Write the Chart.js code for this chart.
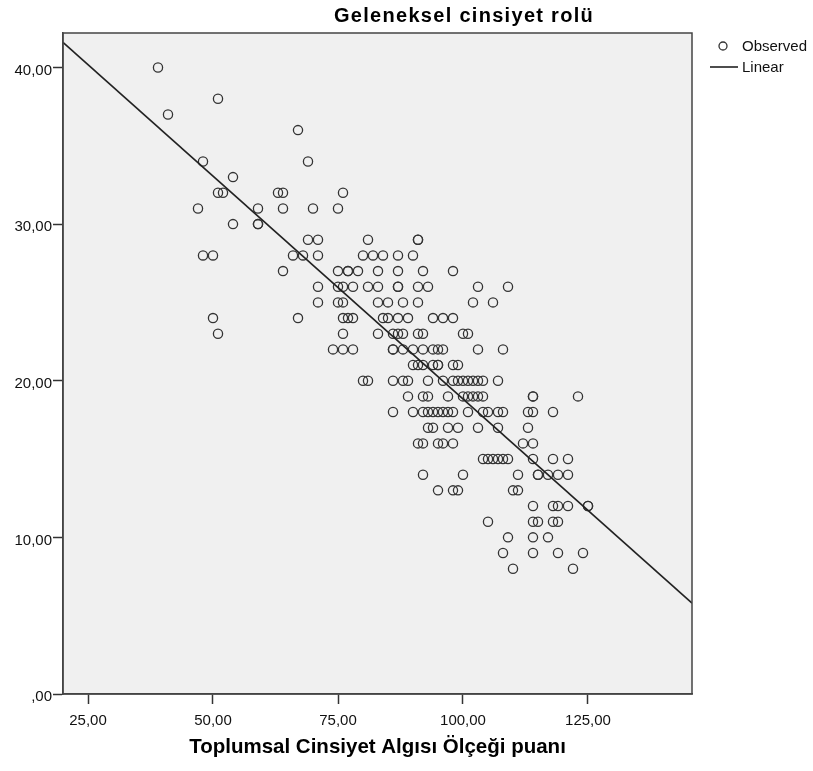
<!DOCTYPE html>
<html>
<head>
<meta charset="utf-8">
<script src="https://cdn.jsdelivr.net/npm/chart.js@4/dist/chart.umd.min.js"></script>
<style>
  html, body { margin: 0; padding: 0; background: #fff; }
</style>
</head>
<body>
<canvas id="scatter" width="813" height="771"></canvas>
<script>
// Toplumsal Cinsiyet Algısı Ölçeği puanı (x) vs Geleneksel cinsiyet rolü (y)
const toplumsalPuan = [
  39,
  51,
  41,
  67,
  48, 69,
  54,
  51, 52, 63, 64, 76,
  47, 59, 64, 70, 75,
  54, 59, 59,
  69, 71, 81, 91, 91,
  48, 50, 66, 68, 71, 80, 82, 84, 87, 90,
  64, 75, 77, 77, 79, 83, 87, 92, 98,
  71, 75, 76, 78, 81, 83, 87, 87, 91, 93, 103, 109,
  71, 75, 76, 83, 85, 88, 91, 102, 106,
  50, 67, 76, 77, 78, 84, 85, 87, 89, 94, 96, 98,
  51, 76, 83, 86, 87, 88, 91, 92, 100, 101,
  74, 76, 78, 86, 86, 88, 90, 92, 94, 95, 96, 103, 108,
  90, 91, 92, 94, 95, 95, 98, 99,
  80, 81, 86, 88, 89, 93, 96, 98, 99, 100, 101, 102, 103, 104, 107,
  89, 92, 93, 97, 100, 101, 102, 103, 104, 114, 114, 123,
  86, 90, 92, 93, 94, 95, 96, 97, 98, 101, 104, 105, 107, 108, 113, 114, 118,
  93, 94, 97, 99, 103, 107, 113,
  91, 92, 95, 96, 98, 112, 114,
  104, 105, 106, 107, 108, 109, 114, 118, 121,
  92, 100, 111, 115, 115, 117, 119, 121,
  95, 98, 99, 110, 111,
  114, 118, 119, 121, 125, 125,
  105, 114, 115, 118, 119,
  109, 114, 117,
  108, 114, 119, 124,
  110, 122
]
const gelenekselRol = [
  40,
  38,
  37,
  36,
  34, 34,
  33,
  32, 32, 32, 32, 32,
  31, 31, 31, 31, 31,
  30, 30, 30,
  29, 29, 29, 29, 29,
  28, 28, 28, 28, 28, 28, 28, 28, 28, 28,
  27, 27, 27, 27, 27, 27, 27, 27, 27,
  26, 26, 26, 26, 26, 26, 26, 26, 26, 26, 26, 26,
  25, 25, 25, 25, 25, 25, 25, 25, 25,
  24, 24, 24, 24, 24, 24, 24, 24, 24, 24, 24, 24,
  23, 23, 23, 23, 23, 23, 23, 23, 23, 23,
  22, 22, 22, 22, 22, 22, 22, 22, 22, 22, 22, 22, 22,
  21, 21, 21, 21, 21, 21, 21, 21,
  20, 20, 20, 20, 20, 20, 20, 20, 20, 20, 20, 20, 20, 20, 20,
  19, 19, 19, 19, 19, 19, 19, 19, 19, 19, 19, 19,
  18, 18, 18, 18, 18, 18, 18, 18, 18, 18, 18, 18, 18, 18, 18, 18, 18,
  17, 17, 17, 17, 17, 17, 17,
  16, 16, 16, 16, 16, 16, 16,
  15, 15, 15, 15, 15, 15, 15, 15, 15,
  14, 14, 14, 14, 14, 14, 14, 14,
  13, 13, 13, 13, 13,
  12, 12, 12, 12, 12, 12,
  11, 11, 11, 11, 11,
  10, 10, 10,
  9, 9, 9, 9,
  8, 8
]

// fitted line, both ends as read at the plot edges
const linearX = [20, 145.8]
const linearY = [41.6, 5.8]

const xTicks = [25, 50, 75, 100, 125]
const yTicks = [0, 10, 20, 30, 40]

const chartTitle = 'Geleneksel cinsiyet rolü'
const xTitle = 'Toplumsal Cinsiyet Algısı Ölçeği puanı'
const legendLabels = ['Observed', 'Linear']

const fontFamily = '"Liberation Sans", Arial, sans-serif'
const ink = '#333'

// SPSS style: 10,00 / ,00
const spssNum = (v) => v === 0 ? ',00' : v.toFixed(2).replace('.', ',')

const observed = toplumsalPuan.map((x, i) => ({ x: x, y: gelenekselRol[i] }))
const fitted = linearX.map((x, i) => ({ x: x, y: linearY[i] }))

const spssFrame = {
  id: 'spssFrame',
  beforeDraw(chart) {
    const { ctx, chartArea: a } = chart
    ctx.save()
    ctx.fillStyle = '#f0f0f0'
    ctx.fillRect(a.left, a.top, a.right - a.left, a.bottom - a.top)
    ctx.restore()
  },
  afterDraw(chart) {
    const { ctx, chartArea: a } = chart
    ctx.save()
    ctx.strokeStyle = '#444'
    ctx.lineWidth = 1.5
    ctx.strokeRect(a.left, a.top, a.right - a.left, a.bottom - a.top)

    // title (SPSS draws it a little wide)
    ctx.fillStyle = '#000'
    ctx.font = 'bold 20px ' + fontFamily
    if ('letterSpacing' in ctx) ctx.letterSpacing = '1.3px'
    ctx.textAlign = 'center'
    ctx.textBaseline = 'middle'
    ctx.fillText(chartTitle, 464, 16)
    if ('letterSpacing' in ctx) ctx.letterSpacing = '0px'

    // legend
    ctx.font = '15px ' + fontFamily
    ctx.textAlign = 'left'
    ctx.fillStyle = '#111'
    ctx.strokeStyle = ink
    ctx.lineWidth = 1.3
    ctx.beginPath()
    ctx.arc(723, 46, 4, 0, Math.PI * 2)
    ctx.stroke()
    ctx.fillText(legendLabels[0], 742, 47)
    ctx.strokeStyle = '#222'
    ctx.lineWidth = 1.6
    ctx.beginPath()
    ctx.moveTo(710, 67)
    ctx.lineTo(738, 67)
    ctx.stroke()
    ctx.fillText(legendLabels[1], 742, 68)
    ctx.restore()
  }
}

new Chart(document.getElementById('scatter'), {
  type: 'scatter',
  data: {
    datasets: [
      {
        label: legendLabels[0],
        data: observed,
        pointStyle: 'circle',
        pointRadius: 4.6,
        pointBorderWidth: 1.3,
        borderColor: ink,
        backgroundColor: 'rgba(0,0,0,0)',
        order: 2,
      },
      {
        type: 'line',
        label: legendLabels[1],
        data: fitted,
        borderColor: '#222',
        borderWidth: 1.6,
        pointRadius: 0,
        fill: false,
        order: 1,
      },
    ],
  },
  options: {
    responsive: false,
    animation: false,
    devicePixelRatio: 1,
    layout: { padding: { top: 33, right: 121, left: 0, bottom: 0 } },
    plugins: {
      legend: { display: false },
      tooltip: { enabled: false },
    },
    scales: {
      x: {
        type: 'linear',
        min: 20,
        max: 145.8,
        afterBuildTicks: (scale) => { scale.ticks = xTicks.map(v => ({ value: v })) },
        afterFit: (scale) => { scale.height = 77 },
        grid: { drawOnChartArea: false, drawTicks: true, tickLength: 10, tickColor: ink, tickWidth: 1.5 },
        border: { display: true, color: '#444', width: 1.5 },
        ticks: {
          color: '#111',
          padding: 8,
          maxRotation: 0,
          font: { family: fontFamily, size: 15 },
          callback: (v) => spssNum(v),
        },
        title: {
          display: true,
          text: xTitle,
          color: '#000',
          font: { family: fontFamily, size: 20.5, weight: 'bold' },
          padding: { top: 0, bottom: 11 },
        },
      },
      y: {
        type: 'linear',
        min: 0,
        max: 42.2,
        afterBuildTicks: (scale) => { scale.ticks = yTicks.map(v => ({ value: v })) },
        afterFit: (scale) => { scale.width = 63 },
        grid: { drawOnChartArea: false, drawTicks: true, tickLength: 10, tickColor: ink, tickWidth: 1.5 },
        border: { display: true, color: '#444', width: 1.5 },
        ticks: {
          color: '#111',
          padding: 1,
          labelOffset: 3,
          font: { family: fontFamily, size: 15 },
          callback: (v) => spssNum(v),
        },
      },
    },
  },
  plugins: [spssFrame],
})
</script>
</body>
</html>
